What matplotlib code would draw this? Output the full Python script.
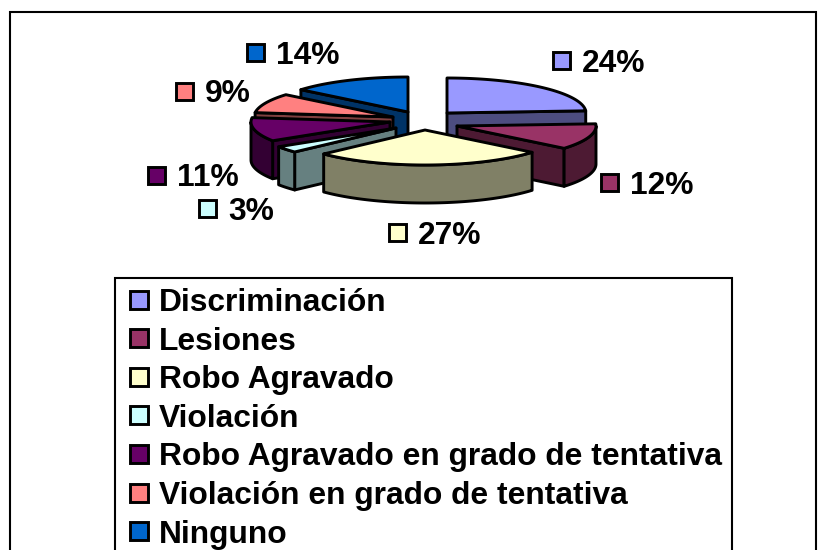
import numpy as np
import matplotlib
matplotlib.use('Agg')
import matplotlib.pyplot as plt
from matplotlib.patches import Polygon, Rectangle

plt.rcParams['font.family'] = ['Liberation Sans', 'DejaVu Sans']

categories = ['Discriminación', 'Lesiones', 'Robo Agravado', 'Violación',
              'Robo Agravado en grado de tentativa',
              'Violación en grado de tentativa', 'Ninguno']
values = [24, 12, 27, 3, 11, 9, 14]
colors = ['#9999FF', '#993366', '#FFFFCC', '#CCFFFF',
          '#660066', '#FF8080', '#0066CC']
shades = ['#4D4D80', '#4D1A33', '#808066', '#668080',
          '#330033', '#804040', '#003366']

# layout in image pixels
apex = [(447, 113), (457, 126), (425, 130), (396, 128),
        (390, 122), (393, 117), (408, 112)]
label_swatch = [(562, 60), (610, 182), (398, 232), (208, 208),
                (157, 175), (185, 91), (256, 52)]
RX, RY, DEPTH = 139, 35, 38
LW = 1.5
LW_PIE = 2.1
FS = 22.9


def rim(cx, cy, a0, a1):
    """Точки дуги; кут за годинниковою стрілкою від верху."""
    t = np.radians(np.linspace(a0, a1, max(int(abs(a1 - a0)), 2) + 1))
    return np.column_stack([cx + RX * np.sin(t), cy - RY * np.cos(t)])


def draw_slice(ax, i, a0, a1):
    cx, cy = apex[i]
    down = np.array([0, DEPTH])
    top = np.vstack([[cx, cy], rim(cx, cy, a0, a1)])
    faces = []
    # бічні грані, які видно спереду
    if a1 < 180:
        faces.append(np.array([[cx, cy], rim(cx, cy, a1, a1)[0],
                               rim(cx, cy, a1, a1)[0] + down, np.array([cx, cy]) + down]))
    if a0 > 180:
        faces.append(np.array([[cx, cy], rim(cx, cy, a0, a0)[0],
                               rim(cx, cy, a0, a0)[0] + down, np.array([cx, cy]) + down]))
    f0, f1 = max(a0, 90), min(a1, 270)
    if f0 < f1:
        arc = rim(cx, cy, f0, f1)
        faces.append(np.vstack([arc, (arc + down)[::-1]]))
    for f in faces:
        ax.add_patch(Polygon(f, closed=True, fc=shades[i], ec='black', lw=LW_PIE, joinstyle='round'))
    ax.add_patch(Polygon(top, closed=True, fc=colors[i], ec='black', lw=LW_PIE, joinstyle='round'))


fig = plt.figure(figsize=(8.23, 5.5), dpi=100)
ax = fig.add_axes([0, 0, 1, 1])
ax.set_xlim(0, 823)
ax.set_ylim(550, 0)
ax.axis('off')

ax.add_patch(Rectangle((10.5, 11.5), 806, 560, fc='white', ec='black', lw=LW))

edges = np.concatenate([[0], np.cumsum(values)]) * 360 / sum(values)
for i in [0, 6, 5, 4, 1, 3, 2]:
    draw_slice(ax, i, edges[i], edges[i + 1])

for i, (x, y) in enumerate(label_swatch):
    ax.add_patch(Rectangle((x - 8.5, y - 8.5), 17, 17, fc=colors[i], ec='black', lw=LW_PIE))
    ax.text(x + 20, y, f'{values[i]}%', fontsize=FS, fontweight='bold',
            va='center_baseline', ha='left')

ax.add_patch(Rectangle((115.5, 277.5), 617, 300, fc='white', ec='black', lw=LW))
for i, name in enumerate(categories):
    y = 299.5 + i * 38.6
    ax.add_patch(Rectangle((130, y - 9), 18, 18, fc=colors[i], ec='black', lw=LW_PIE))
    ax.text(159, y, name, fontsize=FS, fontweight='bold',
            va='center_baseline', ha='left')

fig.savefig('out.png', dpi=100)
